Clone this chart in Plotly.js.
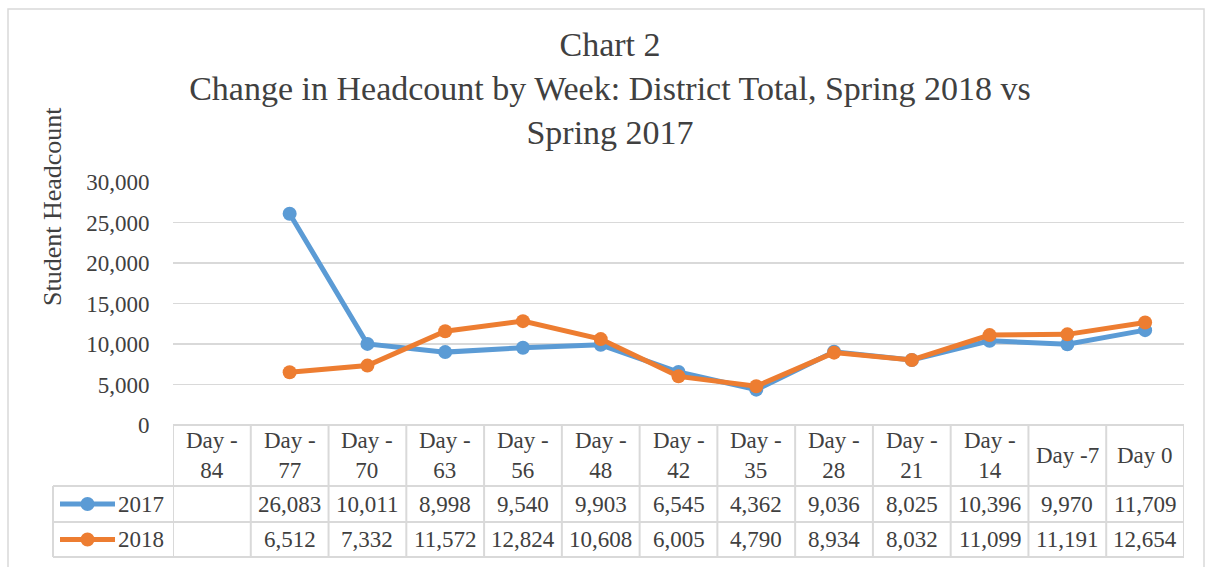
<!DOCTYPE html>
<html>
<head>
<meta charset="utf-8">
<script src="https://cdn.plot.ly/plotly-3.0.1.min.js"></script>
<style>html,body{margin:0;padding:0;background:#fff;}#chart{width:1212px;height:567px;}</style>
</head>
<body>
<div id="chart"></div>
<script>
// ---- data ----
var categories = ["Day -84","Day -77","Day -70","Day -63","Day -56","Day -48","Day -42","Day -35","Day -28","Day -21","Day -14","Day -7","Day 0"];
var headerLabels = ["Day -<br>84","Day -<br>77","Day -<br>70","Day -<br>63","Day -<br>56","Day -<br>48","Day -<br>42","Day -<br>35","Day -<br>28","Day -<br>21","Day -<br>14","Day -7","Day 0"];
var y2017 = [null, 26083, 10011, 8998, 9540, 9903, 6545, 4362, 9036, 8025, 10396, 9970, 11709];
var y2018 = [null, 6512, 7332, 11572, 12824, 10608, 6005, 4790, 8934, 8032, 11099, 11191, 12654];
var seriesNames = ["2017","2018"];
var yTickVals = [0, 5000, 10000, 15000, 20000, 25000, 30000];
var yAxisTitle = "Student Headcount";

var colors = ["#5B9BD5", "#ED7D31"];
var FONT = "Liberation Serif, Times New Roman, serif";
var TXT = "#404040";
var GRID = "#D9D9D9";

// geometry (pixels)
var W = 1212, H = 567;
var L = 173, R = 1184, T = 182, B = 425;
var pw = R - L, ph = B - T;
function px(p){ return (p - L) / pw; }
function py(p){ return (B - p) / ph; }

var rowTop = [B, 486, 522, 557];
var legendLeft = 53;

function fmt(v){ return v == null ? "" : v.toLocaleString("en-US"); }

var traces = [
  {x: categories, y: y2017, name: seriesNames[0], type: "scatter", mode: "lines+markers",
   line: {color: colors[0], width: 5}, marker: {color: colors[0], size: 14}, connectgaps: false, cliponaxis: false},
  {x: categories, y: y2018, name: seriesNames[1], type: "scatter", mode: "lines+markers",
   line: {color: colors[1], width: 5}, marker: {color: colors[1], size: 14}, connectgaps: false, cliponaxis: false}
];

var shapes = [];
var annotations = [];
var n = categories.length;

// outer chart border
shapes.push({type: "rect", xref: "paper", yref: "paper", x0: px(8), x1: px(1204), y0: py(575), y1: py(9),
  line: {color: GRID, width: 1.5}, fillcolor: "rgba(0,0,0,0)", layer: "below"});

// table vertical lines
for (var i = 0; i <= n; i++) {
  shapes.push({type: "line", xref: "x", yref: "paper", x0: i - 0.5, x1: i - 0.5, y0: py(rowTop[0]), y1: py(rowTop[3]),
    line: {color: GRID, width: 2}});
}
shapes.push({type: "line", xref: "paper", yref: "paper", x0: px(legendLeft), x1: px(legendLeft), y0: py(rowTop[1]), y1: py(rowTop[3]),
  line: {color: GRID, width: 2}});
// table horizontal lines
shapes.push({type: "line", xref: "paper", yref: "paper", x0: 0, x1: 1, y0: py(rowTop[0]), y1: py(rowTop[0]), line: {color: GRID, width: 2}});
for (var r = 1; r <= 3; r++) {
  shapes.push({type: "line", xref: "paper", yref: "paper", x0: px(legendLeft), x1: 1, y0: py(rowTop[r]), y1: py(rowTop[r]),
    line: {color: GRID, width: 2}});
}

// header labels
for (var i = 0; i < n; i++) {
  annotations.push({xref: "x", yref: "paper", x: categories[i], y: py((rowTop[0] + rowTop[1]) / 2),
    text: headerLabels[i], showarrow: false, xanchor: "center", yanchor: "middle",
    font: {family: FONT, size: 23, color: TXT}});
}
// values rows
var rows = [y2017, y2018];
for (var s = 0; s < 2; s++) {
  var yc = py((rowTop[s + 1] + rowTop[s + 2]) / 2);
  for (var i = 0; i < n; i++) {
    if (rows[s][i] == null) continue;
    annotations.push({xref: "x", yref: "paper", x: categories[i], y: yc,
      text: fmt(rows[s][i]), showarrow: false, xanchor: "center", yanchor: "middle",
      font: {family: FONT, size: 23, color: TXT}});
  }
  // legend key
  var ypix = (rowTop[s + 1] + rowTop[s + 2]) / 2;
  shapes.push({type: "line", xref: "paper", yref: "paper", x0: px(60), x1: px(115), y0: py(ypix), y1: py(ypix),
    line: {color: colors[s], width: 5}});
  shapes.push({type: "circle", xref: "paper", yref: "paper", xsizemode: "pixel", ysizemode: "pixel",
    xanchor: px(87.5), yanchor: py(ypix), x0: -7, x1: 7, y0: -7, y1: 7,
    fillcolor: colors[s], line: {color: colors[s], width: 0}});
  annotations.push({xref: "paper", yref: "paper", x: px(116), y: py(ypix), text: seriesNames[s],
    showarrow: false, xanchor: "left", yanchor: "middle", font: {family: FONT, size: 23, color: TXT}});
}

// y-axis title (positioned as in the reference, above the plot-area centre)
annotations.push({xref: "paper", yref: "paper", x: px(52), y: py(207), text: yAxisTitle, textangle: -90,
  showarrow: false, xanchor: "center", yanchor: "middle", font: {family: FONT, size: 26, color: TXT}});

var layout = {
  width: W, height: H,
  margin: {l: L, r: W - R, t: T, b: H - B, pad: 0},
  paper_bgcolor: "#fff", plot_bgcolor: "#fff",
  showlegend: false,
  font: {family: FONT, color: TXT},
  title: {text: "Chart 2<br>Change in Headcount by Week: District Total, Spring 2018 vs<br>Spring 2017",
    font: {family: FONT, size: 34, color: TXT}, x: 610 / W, xref: "container", xanchor: "center",
    y: 1 - 56 / H, yref: "container", yanchor: "middle"},
  xaxis: {type: "category", categoryarray: categories, range: [-0.5, n - 0.5], showticklabels: false,
    showgrid: false, zeroline: false, showline: false, ticks: "", fixedrange: true},
  yaxis: {range: [0, 30000], tickvals: yTickVals, tickformat: ",d", showgrid: true, gridcolor: GRID, gridwidth: 1.5,
    zeroline: false, showline: false, ticks: "outside", ticklen: 18, tickcolor: "rgba(0,0,0,0)",
    tickfont: {family: FONT, size: 23, color: TXT}},
  shapes: shapes,
  annotations: annotations
};

Plotly.newPlot("chart", traces, layout, {displayModeBar: false, staticPlot: true});
</script>
</body>
</html>
